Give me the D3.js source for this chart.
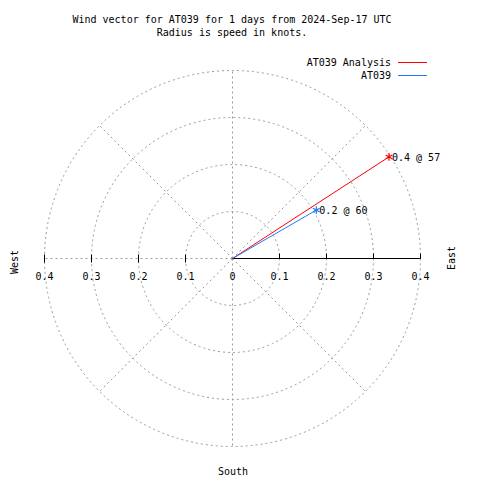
<!DOCTYPE html>
<html><head><meta charset="utf-8">
<script src="https://cdn.jsdelivr.net/npm/d3@7"></script>
<style>body{margin:0;background:#fff}svg{display:block}text{font-family:"DejaVu Sans Mono",monospace;font-size:10px;fill:#000}</style>
</head><body><svg id="c" width="480" height="480"></svg>
<script>
const seriesNames = ["AT039 Analysis", "AT039"];
const seriesColors = ["#ff0000", "#1e7bff"];
const speeds = [0.397, 0.206];
const directions = [57, 60];
const ringValues = [0.1, 0.2, 0.3, 0.4];
const tickValues = [0, 0.1, 0.2, 0.3, 0.4];
const spokeAngles = [0, 45, 90, 135, 180, 225, 270, 315];
const titleLines = ["Wind vector for AT039 for 1 days from 2024-Sep-17 UTC", "Radius is speed in knots."];

const svg = d3.select("#c");
const cx = 232.5, cy = 258.5;
const r = d3.scaleLinear().domain([0, 0.4]).range([0, 188]);
const g = svg.append("g").attr("transform", `translate(${cx},${cy})`);
const grid = "#9a9a9a";

// rings
g.selectAll("circle.ring").data(ringValues).join("circle")
  .attr("r", d => r(d)).attr("fill", "none").attr("stroke", grid)
  .attr("stroke-width", 1).attr("stroke-dasharray", "2,3");
// spokes
const pt = (deg, v) => { const a = deg * Math.PI / 180; return [r(v) * Math.sin(a), -r(v) * Math.cos(a)]; };
g.selectAll("line.spoke").data(spokeAngles.filter(a => a !== 90)).join("line")
  .attr("x1", 0).attr("y1", 0)
  .attr("x2", d => pt(d, 0.4)[0]).attr("y2", d => pt(d, 0.4)[1])
  .attr("stroke", grid).attr("stroke-dasharray", "2,3");
// east axis
const xAxis = d3.scaleLinear().domain([0, 0.4]).range([0, 188]);
g.append("line").attr("x1", 0).attr("x2", xAxis(0.4)).attr("y1", 0).attr("y2", 0).attr("stroke", "#000");
g.selectAll("line.etick").data(tickValues.slice(1)).join("line")
  .attr("x1", d => xAxis(d)).attr("x2", d => xAxis(d)).attr("y1", -5).attr("y2", 0).attr("stroke", "#000");
g.selectAll("text.elab").data(tickValues).join("text")
  .attr("x", d => xAxis(d)).attr("y", 21).attr("text-anchor", "middle")
  .text(d => d === 0 ? "0" : d3.format(".1f")(d));
// west ticks
g.selectAll("line.wtick").data(tickValues.slice(1)).join("line")
  .attr("x1", d => -xAxis(d)).attr("x2", d => -xAxis(d)).attr("y1", -4).attr("y2", 4).attr("stroke", "#000");
g.selectAll("text.wlab").data(tickValues.slice(1)).join("text")
  .attr("x", d => -xAxis(d)).attr("y", 21).attr("text-anchor", "middle")
  .text(d => d3.format(".1f")(d));

// vectors
const vec = speeds.map((s, i) => ({s, d: directions[i], c: seriesColors[i]}));
g.selectAll("line.vec").data(vec).join("line")
  .attr("x1", 0).attr("y1", 0)
  .attr("x2", d => pt(d.d, d.s)[0]).attr("y2", d => pt(d.d, d.s)[1])
  .attr("stroke", d => d.c).attr("stroke-width", 1);
const star = d3.symbol().type(d3.symbolAsterisk).size(40);
g.selectAll("path.mk").data(vec).join("path")
  .attr("d", star).attr("transform", d => `translate(${pt(d.d, d.s)})`)
  .attr("fill", "none").attr("stroke", d => d.c).attr("stroke-width", 1.2);
g.selectAll("text.vlab").data(vec).join("text")
  .attr("x", d => pt(d.d, d.s)[0] + 3).attr("y", d => pt(d.d, d.s)[1] + 4)
  .text(d => `${d3.format(".1f")(d.s)} @ ${Math.round(d.d)}`);

// titles
svg.selectAll("text.title").data(titleLines).join("text")
  .attr("x", 232).attr("y", (d, i) => 23 + i * 13).attr("text-anchor", "middle").text(d => d);
// legend
const lg = svg.append("g");
seriesNames.forEach((n, i) => {
  lg.append("text").attr("x", 391).attr("y", 66 + i * 13).attr("text-anchor", "end").text(n);
  lg.append("line").attr("x1", 398).attr("x2", 427).attr("y1", 62.5 + i * 13).attr("y2", 62.5 + i * 13)
    .attr("stroke", seriesColors[i]);
});
// direction labels
svg.append("text").attr("transform", "translate(18,262) rotate(-90)").attr("text-anchor", "middle").text("West");
svg.append("text").attr("transform", "translate(455,258) rotate(-90)").attr("text-anchor", "middle").text("East");
svg.append("text").attr("x", 233).attr("y", 475).attr("text-anchor", "middle").text("South");
</script></body></html>
